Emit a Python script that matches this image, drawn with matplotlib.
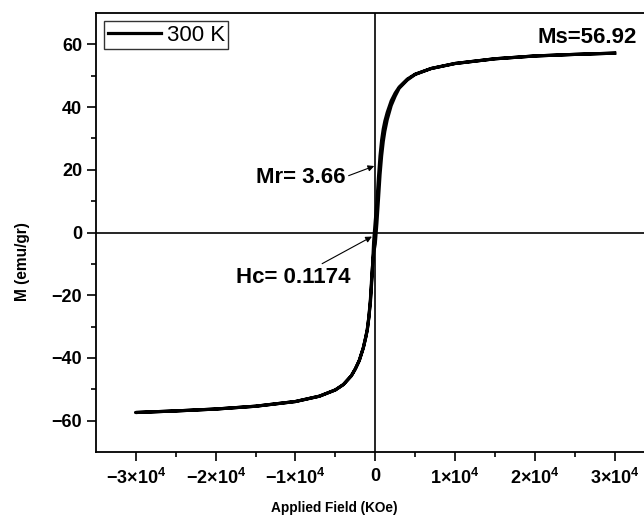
import matplotlib
matplotlib.use('Agg')
import matplotlib.pyplot as plt

# applied field (Oe) for the descending branch, +30000 -> -30000
H_down = [30000, 25000, 20000, 15000, 10000, 7000, 5000, 4000, 3000, 2500,
          2000, 1500, 1200, 1000, 800, 600, 400, 200, 0, -200, -400, -600,
          -800, -1000, -1200, -1500, -2000, -2500, -3000, -4000, -5000,
          -7000, -10000, -15000, -20000, -25000, -30000]
M_down = [57.2, 56.8, 56.3, 55.4, 53.9, 52.3, 50.5, 48.9, 46.4, 44.5,
          42.0, 38.3, 35.5, 33.0, 29.5, 24.5, 17.5, 9.5, 3.66, -2.8, -14.0, -22.0,
          -27.0, -31.0, -33.5, -36.8, -40.8, -43.5, -45.7, -48.5, -50.2,
          -52.2, -53.9, -55.4, -56.3, -56.9, -57.4]

# ascending branch, -30000 -> +30000
H_up = [-30000, -25000, -20000, -15000, -10000, -7000, -5000, -4000, -3000, -2500,
        -2000, -1500, -1200, -1000, -800, -600, -400, -200, 0, 200, 400, 600,
        800, 1000, 1200, 1500, 2000, 2500, 3000, 4000, 5000,
        7000, 10000, 15000, 20000, 25000, 30000]
M_up = [-57.4, -56.9, -56.3, -55.4, -53.9, -52.2, -50.2, -48.5, -45.7, -43.5,
        -40.8, -36.8, -33.5, -31.0, -27.0, -21.0, -12.5, -6.5, -3.66, 2.8, 10.5, 18.5,
        24.5, 29.0, 32.3, 36.0, 40.5, 43.5, 46.0, 48.6, 50.4,
        52.3, 53.9, 55.4, 56.3, 56.8, 57.2]

H = H_down + H_up
M = M_down + M_up

xticks = [-30000, -20000, -10000, 0, 10000, 20000, 30000]
xlabels = [r'$\mathbf{-3{\times}10^{4}}$', r'$\mathbf{-2{\times}10^{4}}$',
           r'$\mathbf{-1{\times}10^{4}}$', r'$\mathbf{0}$',
           r'$\mathbf{1{\times}10^{4}}$', r'$\mathbf{2{\times}10^{4}}$',
           r'$\mathbf{3{\times}10^{4}}$']
yticks = [-60, -40, -20, 0, 20, 40, 60]

plt.rcParams['font.family'] = ['Liberation Sans', 'DejaVu Sans']
plt.rcParams['mathtext.fontset'] = 'custom'
plt.rcParams['mathtext.rm'] = 'Liberation Sans'
plt.rcParams['mathtext.bf'] = 'Liberation Sans:bold'

fig = plt.figure(figsize=(6.44, 5.18), dpi=100)
ax = fig.add_axes([0.149, 0.1274, 0.8674, 0.8475])

ax.plot(H, M, color='black', lw=2.3, label='300 K')
ax.axhline(0, color='black', lw=1.2, zorder=1)
ax.axvline(0, color='black', lw=1.2, zorder=1)

ax.set_xlim(-35000, 35000)
ax.set_ylim(-70, 70)
ax.set_xticks(xticks, xlabels)
ax.set_yticks(yticks)
ax.set_xticks([-25000, -15000, -5000, 5000, 15000, 25000], minor=True)
ax.set_yticks([-50, -30, -10, 10, 30, 50], minor=True)
ax.tick_params(which='major', direction='out', length=6.2, width=1.2, pad=3.8,
               labelsize=13)
ax.tick_params(which='minor', direction='out', length=3.8, width=1.2)
for lab in ax.get_yticklabels():
    lab.set_fontweight('bold')
ax.tick_params(axis='x', pad=5)
for s in ax.spines.values():
    s.set_linewidth(1.3)

ax.set_xlabel('Applied Field (KOe)', fontweight='bold', fontsize=9.8)
ax.set_ylabel('M (emu/gr)', fontweight='bold', fontsize=11.2)
ax.xaxis.set_label_coords(0.426, -0.128)
ax.yaxis.set_label_coords(-0.131, 0.433)
ax.xaxis.label.set_va('center')
ax.yaxis.label.set_va('center')

ax.legend(loc='upper left', fontsize=16, frameon=True, fancybox=False,
          edgecolor='#333333', framealpha=1, borderpad=0.15, borderaxespad=0.38,
          handlelength=2.4, handletextpad=0.25).get_frame().set_linewidth(1.0)

ax.text(32830, 60.35, 'Ms=56.92', ha='right', va='baseline', fontsize=16,
        fontweight='bold')
ax.annotate('Mr= 3.66', xy=(-125, 21.2), xytext=(-14900, 15.7),
            fontsize=16, fontweight='bold', va='baseline',
            arrowprops=dict(arrowstyle='-|>', color='black', lw=0.8,
                            mutation_scale=9, shrinkA=0, shrinkB=0,
                            relpos=(1.0, 0.55)))
ax.annotate('Hc= 0.1174', xy=(-414, -1.3), xytext=(-17420, -16.05),
            fontsize=16, fontweight='bold', va='baseline',
            arrowprops=dict(arrowstyle='-|>', color='black', lw=0.8,
                            mutation_scale=9, shrinkA=0, shrinkB=0,
                            relpos=(0.75, 1.15)))

fig.savefig('out.png', dpi=100)
